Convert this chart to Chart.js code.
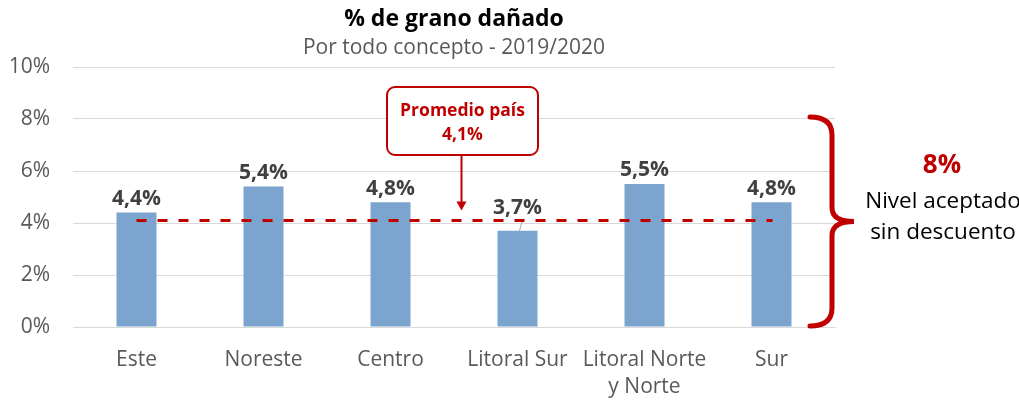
<!DOCTYPE html>
<html>
<head>
<meta charset="utf-8">
<script src="https://cdn.jsdelivr.net/npm/chart.js@4"></script>
<style>
  html, body { margin: 0; padding: 0; background: #fff; }
  #wrap { width: 1019px; height: 402px; }
</style>
</head>
<body>
<div id="wrap"><canvas id="grainChart" width="1019" height="402"></canvas></div>
<script>
// datos
const regions = ['Este', 'Noreste', 'Centro', 'Litoral Sur', ['Litoral Norte', 'y Norte'], 'Sur'];
const damagedPct = [4.4, 5.4, 4.8, 3.7, 5.5, 4.8];
const countryAvg = 4.1;
const acceptedLevel = 8;
const yTicks = [0, 2, 4, 6, 8, 10];

const FONT = '"Open Sans", "Liberation Sans", sans-serif';
const RED = '#c00000';

const fmt = v => v.toFixed(1).replace('.', ',') + '%';

// dibuja títulos, etiquetas, promedio, recuadro y llave
const overlay = {
  id: 'overlay',
  afterDatasetsDraw(chart) {
    const ctx = chart.ctx;
    const area = chart.chartArea;
    const x = chart.scales.x;
    const y = chart.scales.y;
    const meta = chart.getDatasetMeta(0);
    const cx = (area.left + area.right) / 2;

    ctx.save();
    // títulos
    ctx.textAlign = 'center';
    ctx.textBaseline = 'middle';
    ctx.fillStyle = '#000';
    ctx.font = 'bold 23px ' + FONT;
    ctx.fillText('% de grano dañado', cx, 19);
    ctx.fillStyle = '#595959';
    ctx.font = '21px ' + FONT;
    ctx.fillText('Por todo concepto - 2019/2020', cx, 48);

    // etiquetas de valores
    ctx.font = 'bold 21px ' + FONT;
    ctx.fillStyle = '#404040';
    ctx.textBaseline = 'bottom';
    meta.data.forEach((bar, i) => {
      let ty = bar.y - 3;
      if (i === 3) {
        ty = bar.y - 12;
        ctx.strokeStyle = '#a6a6a6';
        ctx.lineWidth = 1;
        ctx.beginPath();
        ctx.moveTo(bar.x + 2, bar.y);
        ctx.lineTo(bar.x + 5, ty + 1);
        ctx.stroke();
      }
      ctx.fillText(fmt(damagedPct[i]), bar.x, ty);
    });

    // línea de promedio (de la primera a la última barra)
    const ay = y.getPixelForValue(countryAvg);
    ctx.strokeStyle = RED;
    ctx.lineWidth = 3;
    ctx.setLineDash([10, 11]);
    ctx.beginPath();
    ctx.moveTo(x.getPixelForValue(0), ay);
    ctx.lineTo(x.getPixelForValue(regions.length - 1) + 1, ay);
    ctx.stroke();
    ctx.setLineDash([]);

    // recuadro "Promedio país"
    const bx = 387, bw = 151, by = 87, bh = 68, r = 8;
    ctx.lineWidth = 2;
    ctx.fillStyle = '#fff';
    ctx.beginPath();
    ctx.roundRect(bx, by, bw, bh, r);
    ctx.fill();
    ctx.stroke();
    ctx.fillStyle = RED;
    ctx.font = 'bold 17.5px ' + FONT;
    ctx.textBaseline = 'middle';
    ctx.fillText('Promedio país', bx + bw / 2, by + 24);
    ctx.fillText(fmt(countryAvg), bx + bw / 2, by + 48);

    // flecha
    const axx = bx + bw / 2 - 1;
    ctx.lineWidth = 2;
    ctx.beginPath();
    ctx.moveTo(axx, by + bh);
    ctx.lineTo(axx, ay - 18);
    ctx.stroke();
    ctx.beginPath();
    ctx.moveTo(axx - 5, ay - 19);
    ctx.lineTo(axx + 5, ay - 19);
    ctx.lineTo(axx, ay - 10);
    ctx.closePath();
    ctx.fill();

    // llave derecha de 0% a 8%
    const top = y.getPixelForValue(acceptedLevel) - 2;
    const bot = y.getPixelForValue(0) - 1;
    const mid = (top + bot) / 2;
    const lx = 810, sx = 832, tip = 854;
    ctx.lineWidth = 5;
    ctx.lineCap = 'round';
    ctx.beginPath();
    ctx.moveTo(lx, top);
    ctx.quadraticCurveTo(sx, top, sx, top + 18);
    ctx.lineTo(sx, mid - 14);
    ctx.quadraticCurveTo(sx, mid, tip, mid);
    ctx.quadraticCurveTo(sx, mid, sx, mid + 14);
    ctx.lineTo(sx, bot - 18);
    ctx.quadraticCurveTo(sx, bot, lx, bot);
    ctx.stroke();

    // texto del nivel aceptado
    ctx.textAlign = 'center';
    ctx.fillStyle = RED;
    ctx.font = 'bold 26px ' + FONT;
    ctx.fillText(acceptedLevel + '%', 942, 166);
    ctx.fillStyle = '#000';
    ctx.font = '22.5px ' + FONT;
    ctx.fillText('Nivel aceptado', 943, 202);
    ctx.fillText('sin descuento', 943, 233);
    ctx.restore();
  }
};

new Chart(document.getElementById('grainChart'), {
  type: 'bar',
  data: {
    labels: regions,
    datasets: [{
      data: damagedPct,
      backgroundColor: '#7ba5cf',
      categoryPercentage: 1,
      barPercentage: 0.315
    }]
  },
  options: {
    responsive: false,
    animation: false,
    layout: { padding: { top: 67, right: 184, bottom: 0, left: 11 } },
    plugins: {
      legend: { display: false },
      tooltip: { enabled: false }
    },
    scales: {
      x: {
        grid: { display: false },
        border: { color: '#d9d9d9', width: 1 },
        afterFit: s => { s.paddingLeft = 0; s.paddingRight = 0; s.height = 75; },
        ticks: {
          color: '#595959',
          font: { family: FONT, size: 21, lineHeight: 1.3 },
          padding: 11,
          maxRotation: 0,
          autoSkip: false
        }
      },
      y: {
        min: 0,
        max: 10,
        afterBuildTicks: axis => { axis.ticks = yTicks.map(v => ({ value: v })); },
        afterFit: s => { s.paddingTop = 0; s.paddingBottom = 0; s.width = 62; },
        grid: { color: '#d9d9d9', drawTicks: false },
        border: { display: false },
        ticks: {
          color: '#595959',
          font: { family: FONT, size: 21 },
          padding: 23,
          callback: v => v + '%'
        }
      }
    }
  },
  plugins: [overlay]
});
</script>
</body>
</html>
